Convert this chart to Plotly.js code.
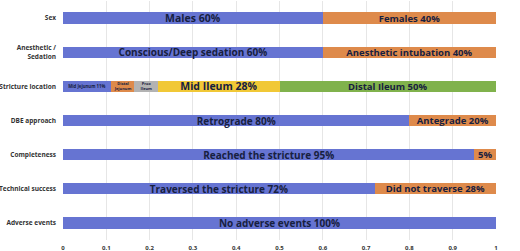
<!DOCTYPE html>
<html><head><meta charset="utf-8">
<script src="https://cdn.plot.ly/plotly-3.0.1.min.js"></script>
<style>html,body{margin:0;padding:0;background:#fff}#c{width:520px;height:251px}</style>
</head><body><div id="c"></div>
<script>
const categories = ["Sex","Anesthetic /<br>Sedation","Stricture location","DBE approach","Completeness","Technical success","Adverse events"];
const tickValues = [0,0.1,0.2,0.3,0.4,0.5,0.6,0.7,0.8,0.9,1];
const tickLabels = ["0","0.1","0.2","0.3","0.4","0.5","0.6","0.7","0.8","0.9","1"];

const sexValues = [0.60, 0.40];
const sexLabels = ["Males 60%", "Females 40%"];
const anesValues = [0.60, 0.40];
const anesLabels = ["Conscious/Deep sedation 60%", "Anesthetic intubation 40%"];
const strictureValues = [0.11, 0.055, 0.055, 0.28, 0.50];
const strictureLabels = ["Mid Jejunum 11%", "Distal<br>Jejunum", "Prox<br>Ileum", "Mid Ileum 28%", "Distal Ileum 50%"];
const dbeValues = [0.80, 0.20];
const dbeLabels = ["Retrograde 80%", "Antegrade 20%"];
const completeValues = [0.95, 0.05];
const completeLabels = ["Reached the stricture 95%", "5%"];
const techValues = [0.72, 0.28];
const techLabels = ["Traversed the stricture 72%", "Did not traverse 28%"];
const adverseValues = [1.00];
const adverseLabels = ["No adverse events 100%"];

const BLUE = "#6674D2", ORANGE = "#DE8A4B", GRAY = "#B3B3B3", YELLOW = "#F1C836", GREEN = "#80B24C";
const rows = [
  {v: sexValues, t: sexLabels, c: [BLUE, ORANGE], s: [10.5, 9.5]},
  {v: anesValues, t: anesLabels, c: [BLUE, ORANGE], s: [10, 9.5]},
  {v: strictureValues, t: strictureLabels, c: [BLUE, ORANGE, GRAY, YELLOW, GREEN], s: [4.3, 4, 4, 10.5, 9.5]},
  {v: dbeValues, t: dbeLabels, c: [BLUE, ORANGE], s: [10, 9.5]},
  {v: completeValues, t: completeLabels, c: [BLUE, ORANGE], s: [10, 9.5]},
  {v: techValues, t: techLabels, c: [BLUE, ORANGE], s: [10, 9.5]},
  {v: adverseValues, t: adverseLabels, c: [BLUE], s: [10]}
];

const FONT = "'Open Sans', 'DejaVu Sans', sans-serif";
const maxSeg = Math.max(...rows.map(r => r.v.length));
const traces = [];
for (let k = 0; k < maxSeg; k++) {
  const x = [], y = [], text = [], color = [], size = [];
  rows.forEach((r, i) => {
    if (k < r.v.length) {
      x.push(r.v[k]); y.push(categories[i]); text.push(r.t[k]);
      color.push(r.c[k]); size.push(r.s[k]);
    }
  });
  traces.push({
    type: "bar", orientation: "h", x: x, y: y, text: text,
    textposition: "inside", insidetextanchor: "middle", constraintext: "none",
    textfont: {family: FONT, size: size, color: "#17203F", weight: 700},
    marker: {color: color, line: {width: 0}},
    hoverinfo: "skip", showlegend: false, cliponaxis: false
  });
}

const layout = {
  width: 520, height: 251,
  margin: {l: 63, r: 24, t: 1, b: 11, pad: 0},
  paper_bgcolor: "#fff", plot_bgcolor: "#fff",
  barmode: "stack", bargap: 0.67,
  font: {family: FONT},
  xaxis: {range: [0, 1], tickvals: tickValues, ticktext: tickLabels,
    showgrid: true, gridcolor: "#E6E6E6", gridwidth: 1, zeroline: false,
    showline: false, ticks: "", ticklen: 0, ticklabelstandoff: 3,
    tickfont: {family: FONT, size: 6, color: "#333", weight: 700}, fixedrange: true},
  yaxis: {categoryorder: "array", categoryarray: categories, autorange: "reversed",
    showgrid: false, zeroline: false, showline: false, ticks: "", ticklen: 0,
    ticklabelstandoff: 6,
    tickfont: {family: FONT, size: 6.5, color: "#333", weight: 700}, fixedrange: true}
};
Plotly.newPlot("c", traces, layout, {staticPlot: true, displayModeBar: false});
</script></body></html>
